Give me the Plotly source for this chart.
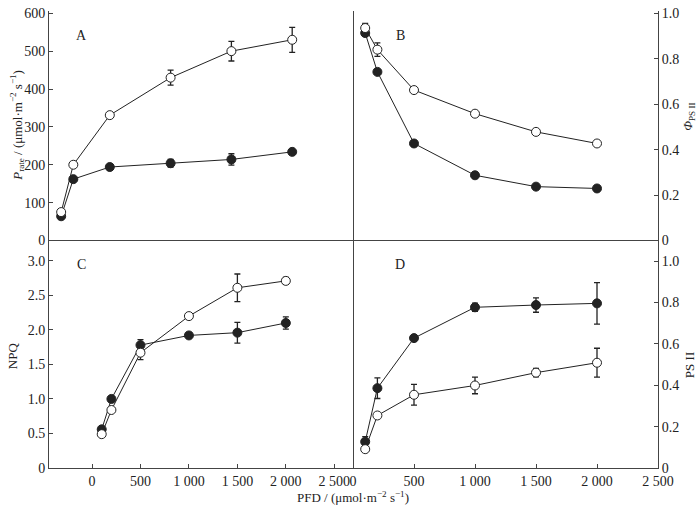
import plotly.graph_objects as go

# light intensities (PFD, umol m-2 s-1)
pfd = [100, 200, 500, 1000, 1500, 2000]

# A: Prate
prate_open = [75, 200, 331, 430, 500, 530]
prate_open_err = [5, 5, 5, 20, 26, 33]
prate_filled = [64, 162, 194, 204, 214, 234]
prate_filled_err = [4, 4, 4, 10, 15, 6]

# B: Phi PSII
phi_open = [0.935, 0.84, 0.662, 0.558, 0.478, 0.427]
phi_open_err = [0.02, 0.03, 0.0, 0.0, 0.0, 0.0]
phi_filled = [0.913, 0.742, 0.427, 0.287, 0.237, 0.229]
phi_filled_err = [0.0, 0.0, 0.0, 0.0, 0.0, 0.0]

# C: NPQ
npq_open = [0.49, 0.84, 1.67, 2.2, 2.61, 2.71]
npq_open_err = [0.0, 0.0, 0.1, 0.0, 0.2, 0.05]
npq_filled = [0.56, 1.0, 1.78, 1.92, 1.96, 2.1]
npq_filled_err = [0.0, 0.0, 0.08, 0.0, 0.15, 0.09]

# D: PS II
ps2_open = [0.091, 0.254, 0.354, 0.399, 0.461, 0.509]
ps2_open_err = [0.0, 0.0, 0.05, 0.04, 0.02, 0.07]
ps2_filled = [0.127, 0.386, 0.628, 0.777, 0.788, 0.796]
ps2_filled_err = [0.025, 0.05, 0.0, 0.02, 0.035, 0.1]

x_tickvals = [0, 500, 1000, 1500, 2000, 2500]
x_ticktext = ["0", "500", "1 000", "1 500", "2 000", "2 500"]

FONT = "Liberation Serif, Times New Roman, serif"
INK = "#222"

L, R, T, B = 49, 42, 6, 42
W, H = 700, 510
PW, PH = W - L - R, H - T - B


def px2paper(px, py):
    """Pixel position in the picture to paper coords."""
    return (px - L) / PW, (H - B - py) / PH


def add_pair(fig, xa, ya, y_open, e_open, y_filled, e_filled):
    """Open and filled circle series with error bars on one panel."""
    for y, e, fill in [(y_filled, e_filled, INK), (y_open, e_open, "white")]:
        fig.add_trace(go.Scatter(
            x=pfd, y=y, xaxis=xa, yaxis=ya, mode="lines+markers",
            line=dict(color=INK, width=1),
            marker=dict(symbol="circle", size=9, color=fill, line=dict(color=INK, width=1)),
            error_y=dict(type="data", array=e, color=INK, thickness=1.3, width=3),
            showlegend=False, cliponaxis=False,
        ))


fig = go.Figure()
add_pair(fig, "x", "y", prate_open, prate_open_err, prate_filled, prate_filled_err)
add_pair(fig, "x2", "y2", phi_open, phi_open_err, phi_filled, phi_filled_err)
add_pair(fig, "x3", "y3", npq_open, npq_open_err, npq_filled, npq_filled_err)
add_pair(fig, "x4", "y4", ps2_open, ps2_open_err, ps2_filled, ps2_filled_err)

split_x, _ = px2paper(353, 0)
_, split_y = px2paper(0, 238)
axis_common = dict(showgrid=False, zeroline=False, showline=True, linecolor="#444", linewidth=1,
                   ticks="inside", ticklen=4, tickcolor="#444", tickfont=dict(family=FONT, size=14, color=INK))

fig.update_layout(
    width=W, height=H,
    margin=dict(l=L, r=R, t=T, b=B),
    plot_bgcolor="white", paper_bgcolor="white",
    font=dict(family=FONT, size=14, color=INK),
    # top row: no x ticks
    xaxis=dict(axis_common, domain=[0, split_x], range=[0, 2500], anchor="y", showticklabels=False, ticks=""),
    xaxis2=dict(axis_common, domain=[split_x, 1], range=[0, 2500], anchor="y2", showticklabels=False, ticks=""),
    xaxis3=dict(axis_common, domain=[0, split_x], range=[-444, 2693], anchor="y3",
                tickvals=x_tickvals, ticktext=x_ticktext),
    xaxis4=dict(axis_common, domain=[split_x, 1], range=[0, 2500], anchor="y4",
                tickvals=x_tickvals, ticktext=x_ticktext),
    yaxis=dict(axis_common, domain=[split_y, 1], range=[0, 606], anchor="x", mirror=True,
               tickvals=[0, 100, 200, 300, 400, 500, 600]),
    yaxis2=dict(axis_common, domain=[split_y, 1], range=[0, 1.01], anchor="x2", side="right",
                tickvals=[0, 0.2, 0.4, 0.6, 0.8, 1.0], ticktext=["0", "0.2", "0.4", "0.6", "0.8", "1.0"]),
    yaxis3=dict(axis_common, domain=[0, split_y], range=[0, 3.295], anchor="x3", mirror=True,
                tickvals=[0, 0.5, 1, 1.5, 2, 2.5, 3],
                ticktext=["0", "0.5", "1.0", "1.5", "2.0", "2.5", "3.0"]),
    yaxis4=dict(axis_common, domain=[0, split_y], range=[0, 1.1], anchor="x4", side="right",
                tickvals=[0, 0.2, 0.4, 0.6, 0.8, 1.0], ticktext=["0", "0.2", "0.4", "0.6", "0.8", "1.0"]),
)

# panel letters
for letter, px, py in [("A", 81, 31), ("B", 400, 31), ("C", 81, 262), ("D", 400, 262)]:
    ax, ay = px2paper(px, py)
    fig.add_annotation(text=letter, xref="paper", yref="paper", x=ax, y=ay, showarrow=False,
                       xanchor="center", yanchor="middle", font=dict(family=FONT, size=14, color=INK))

# axis titles
titles = [
    ("<i>P</i><sub>rate</sub> / (μmol·m<sup>−2</sup> s<sup>−1</sup>)", 17, 122, -90),
    ("NPQ", 12, 355, -90),
    ("<i>Φ</i><sub>PS II</sub>", 689, 113, -90),
    ("PS II", 689, 364, -90),
    ("PFD / (μmol·m<sup>−2</sup> s<sup>−1</sup>)", 353, 497, 0),
]
for txt, px, py, ang in titles:
    ax, ay = px2paper(px, py)
    fig.add_annotation(text=txt, xref="paper", yref="paper", x=ax, y=ay, showarrow=False, textangle=ang,
                       xanchor="center", yanchor="middle", font=dict(family=FONT, size=13, color=INK))

# the page body has a default 8px margin; drop it so the figure sits at the corner
fig.write_html("out.html", config={"displayModeBar": False},
               post_script="document.body.style.margin = '0';")
